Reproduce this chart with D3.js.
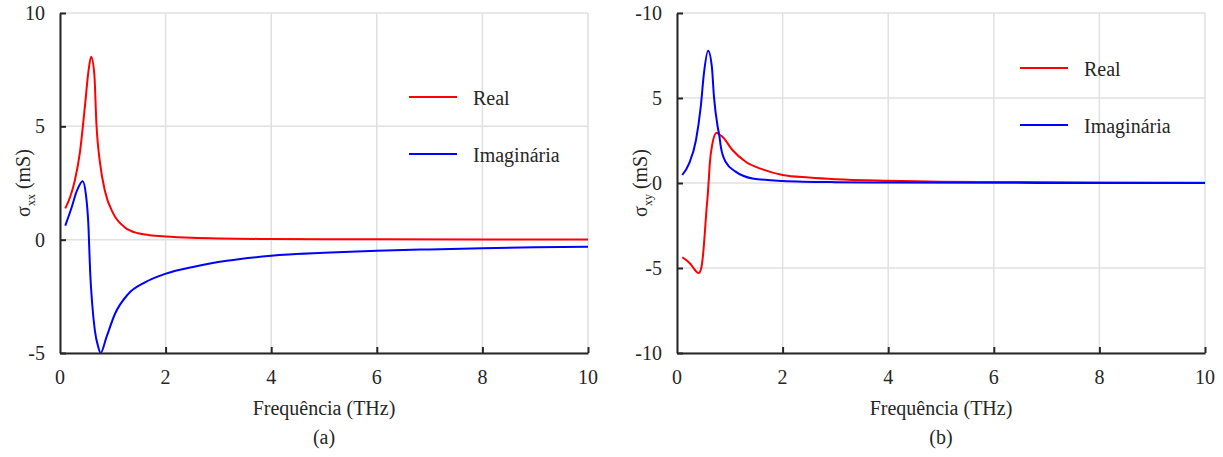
<!DOCTYPE html>
<html><head><meta charset="utf-8"><script src="https://cdn.jsdelivr.net/npm/d3@7"></script></head>
<body style="margin:0">
<svg id="s" width="1223" height="457"></svg>
<script>
// ---- Data ----
const xTicks = [0, 2, 4, 6, 8, 10];
const xTickLabels = ["0", "2", "4", "6", "8", "10"];

// Panel (a): sigma_xx
const aYTicks = [10, 5, 0, -5];
const aYTickLabels = ["10", "5", "0", "-5"];
const aRealF = [0.10, 0.19, 0.28, 0.38, 0.47, 0.54, 0.59, 0.65, 0.69, 0.76, 0.85, 1.01, 1.23, 1.48, 1.70, 2.0, 2.5, 3.0, 4.0, 5.0, 6.0, 8.0, 10.0];
const aRealV = [1.38, 1.87, 2.6, 3.9, 5.84, 7.45, 8.07, 7.3, 5.1, 3.35, 2.16, 1.15, 0.54, 0.28, 0.2, 0.14, 0.08, 0.05, 0.03, 0.02, 0.015, 0.01, 0.005];
const aImagF = [0.10, 0.22, 0.32, 0.43, 0.49, 0.54, 0.57, 0.61, 0.66, 0.72, 0.77, 0.88, 1.04, 1.29, 1.61, 1.99, 2.56, 3.16, 4.0, 5.0, 6.0, 7.0, 8.0, 9.0, 10.0];
const aImagV = [0.62, 1.42, 2.16, 2.58, 2.0, 0.54, -1.37, -2.84, -4.0, -4.7, -5.0, -4.3, -3.28, -2.4, -1.88, -1.51, -1.18, -0.93, -0.71, -0.58, -0.49, -0.43, -0.38, -0.34, -0.31];

// Panel (b): sigma_xy
const bYTicks = [10, 5, 0, -5, -10];
const bYTickLabels = ["-10", "5", "0", "-5", "-10"];
const bRealF = [0.10, 0.18, 0.26, 0.34, 0.41, 0.46, 0.50, 0.53, 0.56, 0.58, 0.60, 0.62, 0.67, 0.75, 0.80, 0.86, 1.05, 1.30, 1.62, 2.0, 2.5, 3.0, 4.0, 5.0, 6.0, 8.0, 10.0];
const bRealV = [-4.37, -4.55, -4.78, -5.12, -5.3, -5.0, -4.0, -2.8, -1.5, -0.8, 0.1, 1.1, 2.3, 2.96, 2.85, 2.72, 1.94, 1.25, 0.8, 0.47, 0.32, 0.22, 0.13, 0.08, 0.06, 0.03, 0.02];
const bImagF = [0.10, 0.23, 0.36, 0.45, 0.51, 0.59, 0.66, 0.70, 0.77, 0.80, 0.83, 0.92, 1.11, 1.43, 2.0, 3.0, 4.0, 6.0, 8.0, 10.0];
const bImagV = [0.47, 1.16, 2.53, 4.49, 6.45, 7.78, 6.84, 5.08, 3.31, 2.82, 2.14, 1.25, 0.67, 0.27, 0.12, 0.05, 0.03, 0.01, 0.005, 0.0];

const legendLabels = ["Real", "Imaginária"];
const colors = ["#ff0000", "#0000ff"];

// ---- Drawing ----
const svg = d3.select("#s");
const ink = "#262626";
const gridColor = "#e0e0e0";

const panels = [
  { left: 60, right: 588, top: 13, bottom: 353, yDomain: [-5, 10], yTicks: aYTicks, yLabels: aYTickLabels,
    series: [[aRealF, aRealV], [aImagF, aImagV]], sub: "xx", caption: "(a)",
    legendX: 409, legendY: [97, 154] },
  { left: 677, right: 1205, top: 13, bottom: 353, yDomain: [-10, 10], yTicks: bYTicks, yLabels: bYTickLabels,
    series: [[bRealF, bRealV], [bImagF, bImagV]], sub: "xy", caption: "(b)",
    legendX: 1020, legendY: [68, 125] }
];

// text helper: text nodes directly on the svg root, serif via inline style
function txt(x, y, s, anchor) {
  return svg.append("text")
    .attr("x", x).attr("y", y)
    .attr("font-size", 20)
    .attr("fill", ink)
    .attr("text-anchor", anchor || "start")
    .style("font-family", "'Liberation Serif'")
    .text(s);
}

panels.forEach(p => {
  const x = d3.scaleLinear().domain([0, 10]).range([p.left, p.right]);
  const y = d3.scaleLinear().domain(p.yDomain).range([p.bottom, p.top]);

  // grid
  svg.append("g").selectAll("line").data(xTicks).join("line")
    .attr("x1", d => x(d)).attr("x2", d => x(d))
    .attr("y1", p.top).attr("y2", p.bottom)
    .attr("stroke", gridColor).attr("stroke-width", 1.5);
  svg.append("g").selectAll("line").data(p.yTicks).join("line")
    .attr("x1", p.left).attr("x2", p.right)
    .attr("y1", d => y(d)).attr("y2", d => y(d))
    .attr("stroke", gridColor).attr("stroke-width", 1.5);

  // curves
  const line = d3.line().curve(d3.curveMonotoneX)
    .x(d => x(d[0])).y(d => y(d[1]));
  p.series.forEach((s, i) => {
    const pts = s[0].map((f, k) => [f, s[1][k]]);
    svg.append("path").datum(pts)
      .attr("d", line)
      .attr("fill", "none")
      .attr("stroke", colors[i])
      .attr("stroke-width", 2);
  });

  // axes lines and inward ticks (labels drawn separately)
  const xAxis = d3.axisBottom(x).tickValues(xTicks.slice(1)).tickFormat("")
    .tickSizeInner(-6).tickSizeOuter(0);
  const gx = svg.append("g").attr("transform", `translate(0,${p.bottom})`).call(xAxis);
  const yAxis = d3.axisLeft(y).tickValues(p.yTicks).tickFormat("")
    .tickSizeInner(-6).tickSizeOuter(0);
  const gy = svg.append("g").attr("transform", `translate(${p.left},0)`).call(yAxis);
  [gx, gy].forEach(a => {
    a.select(".domain").attr("stroke", ink).attr("stroke-width", 2);
    a.selectAll(".tick line").attr("stroke", ink).attr("stroke-width", 2);
    a.selectAll(".tick text").remove();
  });

  // tick labels
  xTicks.forEach((t, i) => txt(x(t), 384, xTickLabels[i], "middle"));
  p.yTicks.forEach((t, i) => txt(p.left - 15, y(t) + 7, p.yLabels[i], "end"));

  // x title and caption
  const cx = (p.left + p.right) / 2;
  txt(cx, 415, "Frequência (THz)", "middle");
  txt(cx, 444, p.caption, "middle");

  // y title
  const cy = (p.top + p.bottom) / 2;
  const yt = txt(0, 0, "", "middle")
    .attr("transform", `translate(${p.left - 30},${cy}) rotate(-90)`);
  yt.append("tspan").text("σ");
  yt.append("tspan").attr("dy", 5).attr("font-size", 12).text(p.sub);
  yt.append("tspan").attr("dy", -5).text(" (mS)");

  // legend
  legendLabels.forEach((lab, i) => {
    const ly = p.legendY[i];
    svg.append("line").attr("x1", p.legendX).attr("x2", p.legendX + 48)
      .attr("y1", ly).attr("y2", ly)
      .attr("stroke", colors[i]).attr("stroke-width", 2);
    txt(p.legendX + 64, ly + 8, lab, "start");
  });
});
</script></body></html>
